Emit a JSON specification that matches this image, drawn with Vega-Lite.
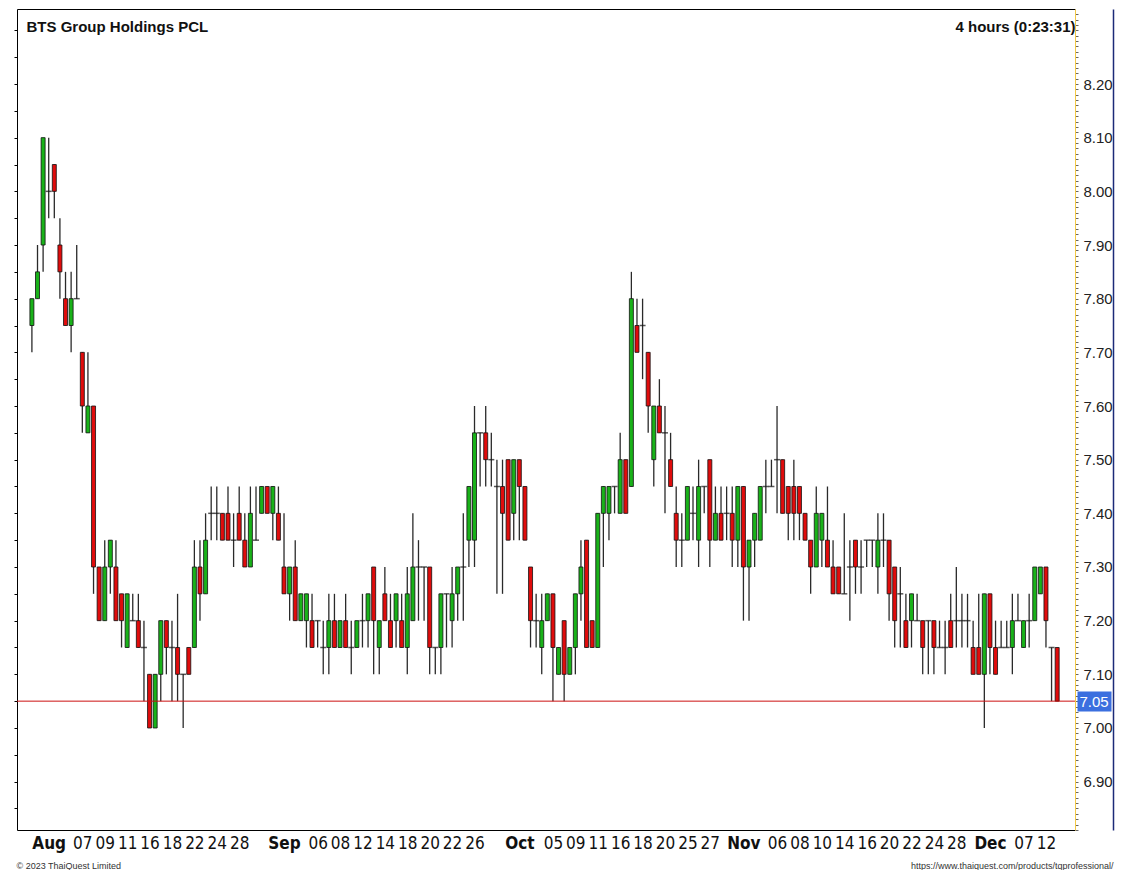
{
"$schema": "https://vega.github.io/schema/vega-lite/v6.json",
"width": 1058,
"height": 821,
"autosize": {"type": "none"},
"padding": {"left": 17, "top": 9, "right": 55, "bottom": 40},
"background": "white",
"config": {"view": {"stroke": null}, "font": "Liberation Sans"},
"datasets": {
"candles": [
{"i":0,"o":7.75,"h":7.8,"l":7.7,"c":7.8},
{"i":1,"o":7.8,"h":7.9,"l":7.8,"c":7.85},
{"i":2,"o":7.9,"h":8.1,"l":7.85,"c":8.1},
{"i":3,"o":8.0,"h":8.1,"l":7.95,"c":8.0},
{"i":4,"o":8.05,"h":8.05,"l":7.95,"c":8.0},
{"i":5,"o":7.9,"h":7.95,"l":7.8,"c":7.85},
{"i":6,"o":7.8,"h":7.85,"l":7.75,"c":7.75},
{"i":7,"o":7.75,"h":7.85,"l":7.7,"c":7.8},
{"i":8,"o":7.8,"h":7.9,"l":7.8,"c":7.8},
{"i":9,"o":7.7,"h":7.7,"l":7.55,"c":7.6},
{"i":10,"o":7.55,"h":7.7,"l":7.55,"c":7.6},
{"i":11,"o":7.6,"h":7.6,"l":7.25,"c":7.3},
{"i":12,"o":7.3,"h":7.3,"l":7.2,"c":7.2},
{"i":13,"o":7.2,"h":7.35,"l":7.2,"c":7.3},
{"i":14,"o":7.3,"h":7.35,"l":7.25,"c":7.35},
{"i":15,"o":7.3,"h":7.35,"l":7.2,"c":7.2},
{"i":16,"o":7.25,"h":7.25,"l":7.15,"c":7.2},
{"i":17,"o":7.15,"h":7.25,"l":7.15,"c":7.25},
{"i":18,"o":7.2,"h":7.25,"l":7.2,"c":7.2},
{"i":19,"o":7.2,"h":7.25,"l":7.15,"c":7.15},
{"i":20,"o":7.15,"h":7.2,"l":7.05,"c":7.15},
{"i":21,"o":7.1,"h":7.1,"l":7.0,"c":7.0},
{"i":22,"o":7.0,"h":7.1,"l":7.0,"c":7.1},
{"i":23,"o":7.1,"h":7.2,"l":7.05,"c":7.2},
{"i":24,"o":7.2,"h":7.2,"l":7.1,"c":7.15},
{"i":25,"o":7.15,"h":7.2,"l":7.05,"c":7.15},
{"i":26,"o":7.15,"h":7.25,"l":7.05,"c":7.1},
{"i":27,"o":7.1,"h":7.1,"l":7.0,"c":7.1},
{"i":28,"o":7.15,"h":7.15,"l":7.1,"c":7.1},
{"i":29,"o":7.15,"h":7.35,"l":7.15,"c":7.3},
{"i":30,"o":7.3,"h":7.35,"l":7.2,"c":7.25},
{"i":31,"o":7.25,"h":7.4,"l":7.25,"c":7.35},
{"i":32,"o":7.4,"h":7.45,"l":7.35,"c":7.4},
{"i":33,"o":7.4,"h":7.45,"l":7.35,"c":7.4},
{"i":34,"o":7.4,"h":7.4,"l":7.35,"c":7.35},
{"i":35,"o":7.4,"h":7.45,"l":7.35,"c":7.35},
{"i":36,"o":7.35,"h":7.4,"l":7.3,"c":7.35},
{"i":37,"o":7.4,"h":7.45,"l":7.35,"c":7.35},
{"i":38,"o":7.35,"h":7.4,"l":7.3,"c":7.3},
{"i":39,"o":7.3,"h":7.45,"l":7.3,"c":7.4},
{"i":40,"o":7.35,"h":7.45,"l":7.35,"c":7.35},
{"i":41,"o":7.4,"h":7.45,"l":7.4,"c":7.45},
{"i":42,"o":7.45,"h":7.45,"l":7.4,"c":7.4},
{"i":43,"o":7.4,"h":7.45,"l":7.35,"c":7.45},
{"i":44,"o":7.4,"h":7.45,"l":7.35,"c":7.35},
{"i":45,"o":7.3,"h":7.4,"l":7.25,"c":7.25},
{"i":46,"o":7.25,"h":7.3,"l":7.2,"c":7.3},
{"i":47,"o":7.3,"h":7.35,"l":7.2,"c":7.2},
{"i":48,"o":7.2,"h":7.25,"l":7.2,"c":7.25},
{"i":49,"o":7.2,"h":7.25,"l":7.15,"c":7.25},
{"i":50,"o":7.2,"h":7.25,"l":7.15,"c":7.15},
{"i":51,"o":7.2,"h":7.2,"l":7.15,"c":7.2},
{"i":52,"o":7.15,"h":7.2,"l":7.1,"c":7.15},
{"i":53,"o":7.15,"h":7.25,"l":7.1,"c":7.2},
{"i":54,"o":7.2,"h":7.25,"l":7.15,"c":7.15},
{"i":55,"o":7.15,"h":7.2,"l":7.15,"c":7.2},
{"i":56,"o":7.2,"h":7.25,"l":7.15,"c":7.15},
{"i":57,"o":7.15,"h":7.2,"l":7.1,"c":7.15},
{"i":58,"o":7.15,"h":7.2,"l":7.15,"c":7.2},
{"i":59,"o":7.2,"h":7.25,"l":7.15,"c":7.2},
{"i":60,"o":7.2,"h":7.25,"l":7.15,"c":7.25},
{"i":61,"o":7.3,"h":7.3,"l":7.1,"c":7.2},
{"i":62,"o":7.15,"h":7.2,"l":7.1,"c":7.2},
{"i":63,"o":7.25,"h":7.3,"l":7.2,"c":7.2},
{"i":64,"o":7.2,"h":7.25,"l":7.15,"c":7.15},
{"i":65,"o":7.2,"h":7.25,"l":7.15,"c":7.25},
{"i":66,"o":7.2,"h":7.25,"l":7.15,"c":7.15},
{"i":67,"o":7.15,"h":7.3,"l":7.1,"c":7.25},
{"i":68,"o":7.2,"h":7.4,"l":7.2,"c":7.3},
{"i":69,"o":7.3,"h":7.35,"l":7.2,"c":7.3},
{"i":70,"o":7.3,"h":7.3,"l":7.2,"c":7.3},
{"i":71,"o":7.3,"h":7.3,"l":7.1,"c":7.15},
{"i":72,"o":7.15,"h":7.15,"l":7.1,"c":7.15},
{"i":73,"o":7.15,"h":7.25,"l":7.1,"c":7.25},
{"i":74,"o":7.25,"h":7.25,"l":7.15,"c":7.25},
{"i":75,"o":7.2,"h":7.3,"l":7.15,"c":7.25},
{"i":76,"o":7.25,"h":7.3,"l":7.2,"c":7.3},
{"i":77,"o":7.3,"h":7.4,"l":7.2,"c":7.3},
{"i":78,"o":7.35,"h":7.45,"l":7.3,"c":7.45},
{"i":79,"o":7.35,"h":7.6,"l":7.3,"c":7.55},
{"i":80,"o":7.55,"h":7.55,"l":7.45,"c":7.55},
{"i":81,"o":7.55,"h":7.6,"l":7.45,"c":7.5},
{"i":82,"o":7.5,"h":7.55,"l":7.45,"c":7.5},
{"i":83,"o":7.45,"h":7.5,"l":7.25,"c":7.45},
{"i":84,"o":7.45,"h":7.5,"l":7.25,"c":7.4},
{"i":85,"o":7.5,"h":7.5,"l":7.35,"c":7.35},
{"i":86,"o":7.4,"h":7.5,"l":7.35,"c":7.5},
{"i":87,"o":7.5,"h":7.5,"l":7.35,"c":7.45},
{"i":88,"o":7.45,"h":7.45,"l":7.35,"c":7.35},
{"i":89,"o":7.3,"h":7.3,"l":7.15,"c":7.2},
{"i":90,"o":7.2,"h":7.25,"l":7.15,"c":7.2},
{"i":91,"o":7.15,"h":7.25,"l":7.1,"c":7.2},
{"i":92,"o":7.2,"h":7.25,"l":7.2,"c":7.25},
{"i":93,"o":7.25,"h":7.25,"l":7.05,"c":7.15},
{"i":94,"o":7.1,"h":7.15,"l":7.1,"c":7.15},
{"i":95,"o":7.2,"h":7.2,"l":7.05,"c":7.1},
{"i":96,"o":7.1,"h":7.15,"l":7.1,"c":7.15},
{"i":97,"o":7.15,"h":7.25,"l":7.1,"c":7.25},
{"i":98,"o":7.25,"h":7.35,"l":7.2,"c":7.3},
{"i":99,"o":7.35,"h":7.35,"l":7.15,"c":7.15},
{"i":100,"o":7.2,"h":7.2,"l":7.15,"c":7.15},
{"i":101,"o":7.15,"h":7.4,"l":7.15,"c":7.4},
{"i":102,"o":7.4,"h":7.45,"l":7.3,"c":7.45},
{"i":103,"o":7.4,"h":7.45,"l":7.35,"c":7.45},
{"i":104,"o":7.45,"h":7.45,"l":7.4,"c":7.45},
{"i":105,"o":7.4,"h":7.55,"l":7.4,"c":7.5},
{"i":106,"o":7.5,"h":7.5,"l":7.4,"c":7.4},
{"i":107,"o":7.45,"h":7.85,"l":7.45,"c":7.8},
{"i":108,"o":7.75,"h":7.8,"l":7.7,"c":7.7},
{"i":109,"o":7.75,"h":7.8,"l":7.65,"c":7.75},
{"i":110,"o":7.7,"h":7.7,"l":7.55,"c":7.6},
{"i":111,"o":7.5,"h":7.6,"l":7.45,"c":7.6},
{"i":112,"o":7.6,"h":7.65,"l":7.55,"c":7.55},
{"i":113,"o":7.55,"h":7.6,"l":7.4,"c":7.55},
{"i":114,"o":7.5,"h":7.55,"l":7.45,"c":7.45},
{"i":115,"o":7.4,"h":7.45,"l":7.3,"c":7.35},
{"i":116,"o":7.35,"h":7.4,"l":7.3,"c":7.35},
{"i":117,"o":7.35,"h":7.45,"l":7.35,"c":7.45},
{"i":118,"o":7.4,"h":7.45,"l":7.35,"c":7.4},
{"i":119,"o":7.35,"h":7.5,"l":7.3,"c":7.45},
{"i":120,"o":7.45,"h":7.45,"l":7.4,"c":7.45},
{"i":121,"o":7.5,"h":7.5,"l":7.3,"c":7.35},
{"i":122,"o":7.35,"h":7.45,"l":7.35,"c":7.4},
{"i":123,"o":7.4,"h":7.45,"l":7.35,"c":7.35},
{"i":124,"o":7.4,"h":7.45,"l":7.35,"c":7.4},
{"i":125,"o":7.4,"h":7.45,"l":7.3,"c":7.35},
{"i":126,"o":7.35,"h":7.45,"l":7.3,"c":7.45},
{"i":127,"o":7.45,"h":7.45,"l":7.2,"c":7.3},
{"i":128,"o":7.3,"h":7.35,"l":7.2,"c":7.35},
{"i":129,"o":7.35,"h":7.4,"l":7.3,"c":7.4},
{"i":130,"o":7.35,"h":7.45,"l":7.35,"c":7.45},
{"i":131,"o":7.45,"h":7.5,"l":7.4,"c":7.45},
{"i":132,"o":7.45,"h":7.5,"l":7.45,"c":7.45},
{"i":133,"o":7.5,"h":7.6,"l":7.4,"c":7.5},
{"i":134,"o":7.5,"h":7.5,"l":7.4,"c":7.4},
{"i":135,"o":7.45,"h":7.45,"l":7.35,"c":7.4},
{"i":136,"o":7.45,"h":7.5,"l":7.35,"c":7.4},
{"i":137,"o":7.45,"h":7.45,"l":7.35,"c":7.4},
{"i":138,"o":7.4,"h":7.4,"l":7.35,"c":7.35},
{"i":139,"o":7.35,"h":7.35,"l":7.25,"c":7.3},
{"i":140,"o":7.3,"h":7.45,"l":7.3,"c":7.4},
{"i":141,"o":7.35,"h":7.4,"l":7.3,"c":7.4},
{"i":142,"o":7.35,"h":7.45,"l":7.3,"c":7.3},
{"i":143,"o":7.3,"h":7.35,"l":7.25,"c":7.25},
{"i":144,"o":7.3,"h":7.3,"l":7.25,"c":7.25},
{"i":145,"o":7.25,"h":7.4,"l":7.25,"c":7.25},
{"i":146,"o":7.3,"h":7.35,"l":7.2,"c":7.3},
{"i":147,"o":7.35,"h":7.35,"l":7.25,"c":7.3},
{"i":148,"o":7.3,"h":7.35,"l":7.25,"c":7.3},
{"i":149,"o":7.35,"h":7.35,"l":7.3,"c":7.35},
{"i":150,"o":7.35,"h":7.35,"l":7.3,"c":7.35},
{"i":151,"o":7.3,"h":7.4,"l":7.25,"c":7.35},
{"i":152,"o":7.35,"h":7.4,"l":7.3,"c":7.35},
{"i":153,"o":7.35,"h":7.35,"l":7.2,"c":7.25},
{"i":154,"o":7.3,"h":7.3,"l":7.15,"c":7.2},
{"i":155,"o":7.25,"h":7.3,"l":7.15,"c":7.25},
{"i":156,"o":7.2,"h":7.25,"l":7.15,"c":7.15},
{"i":157,"o":7.2,"h":7.25,"l":7.15,"c":7.25},
{"i":158,"o":7.2,"h":7.25,"l":7.2,"c":7.2},
{"i":159,"o":7.2,"h":7.2,"l":7.1,"c":7.15},
{"i":160,"o":7.2,"h":7.2,"l":7.1,"c":7.2},
{"i":161,"o":7.2,"h":7.2,"l":7.1,"c":7.15},
{"i":162,"o":7.15,"h":7.2,"l":7.15,"c":7.15},
{"i":163,"o":7.15,"h":7.2,"l":7.1,"c":7.15},
{"i":164,"o":7.2,"h":7.25,"l":7.15,"c":7.15},
{"i":165,"o":7.2,"h":7.3,"l":7.15,"c":7.2},
{"i":166,"o":7.2,"h":7.25,"l":7.15,"c":7.2},
{"i":167,"o":7.2,"h":7.25,"l":7.15,"c":7.2},
{"i":168,"o":7.15,"h":7.2,"l":7.1,"c":7.1},
{"i":169,"o":7.15,"h":7.25,"l":7.1,"c":7.1},
{"i":170,"o":7.1,"h":7.25,"l":7.0,"c":7.25},
{"i":171,"o":7.25,"h":7.25,"l":7.1,"c":7.15},
{"i":172,"o":7.15,"h":7.2,"l":7.1,"c":7.1},
{"i":173,"o":7.15,"h":7.2,"l":7.15,"c":7.15},
{"i":174,"o":7.15,"h":7.2,"l":7.15,"c":7.15},
{"i":175,"o":7.15,"h":7.25,"l":7.1,"c":7.2},
{"i":176,"o":7.2,"h":7.25,"l":7.2,"c":7.2},
{"i":177,"o":7.15,"h":7.2,"l":7.15,"c":7.2},
{"i":178,"o":7.2,"h":7.25,"l":7.15,"c":7.2},
{"i":179,"o":7.2,"h":7.3,"l":7.2,"c":7.3},
{"i":180,"o":7.25,"h":7.3,"l":7.25,"c":7.3},
{"i":181,"o":7.3,"h":7.3,"l":7.15,"c":7.2},
{"i":182,"o":7.15,"h":7.15,"l":7.05,"c":7.15},
{"i":183,"o":7.15,"h":7.15,"l":7.05,"c":7.05}
],
"last": [{"p": 7.05}]
},
"layer": [
{
"data": {"name": "candles"},
"mark": {"type": "rule", "color": "#2a2a2a", "strokeWidth": 1.3},
"encoding": {
"x": {"field": "i", "type": "quantitative",
"scale": {"domain": [-1.768, 185.29], "nice": false, "zero": false},
"axis": {"orient": "bottom",
"values": [3,9,13,17,21,25,29,33,37,45,51,55,59,63,67,71,75,79,87,93,97,101,105,109,113,117,121,127,133,137,141,145,149,153,157,161,165,171,177,181],
"labelExpr": "['Aug','07','09','11','16','18','22','24','28','Sep','06','08','12','14','18','20','22','26','Oct','05','09','11','16','18','20','25','27','Nov','06','08','10','14','16','20','22','24','28','Dec','07','12'][indexof([3,9,13,17,21,25,29,33,37,45,51,55,59,63,67,71,75,79,87,93,97,101,105,109,113,117,121,127,133,137,141,145,149,153,157,161,165,171,177,181], datum.value)]",
"labelFontWeight": {"condition": {"test": "indexof([3,45,87,127,171], datum.value) >= 0", "value": "bold"}, "value": "normal"},
"labelFont": "DejaVu Sans Condensed, Liberation Sans, sans-serif",
"labelFontSize": 17, "labelColor": "#111111", "labelPadding": 5, "labelBaseline": "top",
"labelOverlap": false, "labelFlush": false, "labelBound": false,
"ticks": false, "grid": false, "domain": true, "domainColor": "#000000", "domainWidth": 1,
"title": "© 2023 ThaiQuest Limited", "titleX": -1, "titleY": 38, "titleAlign": "left", "titleAnchor": "start",
"titleBaseline": "alphabetic", "titleFontSize": 9, "titleFontWeight": "normal", "titleColor": "#333333", "titleFont": "Liberation Sans"}},
"y": {"field": "l", "type": "quantitative",
"scale": {"domain": [6.8099, 8.3398], "nice": false, "zero": false},
"axis": {"orient": "right", "tickCount": 150,
"labelExpr": "(abs(datum.value*10 - round(datum.value*10)) < 0.001 && datum.value < 8.25) ? format(datum.value, '.2f') : ''",
"labelOverlap": false, "labelFlush": false, "labelBound": false,
"tickSize": 3, "tickColor": "#666666", "tickWidth": 1,
"domain": true, "domainColor": "#f3c845", "domainWidth": 1,
"labelFont": "Liberation Sans", "labelFontSize": 15, "labelColor": "#222222", "labelPadding": 5,
"labelAlign": "left", "labelBaseline": "middle", "grid": false, "title": null}},
"y2": {"field": "h"}
}
},
{
"data": {"name": "candles"},
"transform": [{"filter": "datum.o != datum.c"}],
"mark": {"type": "bar", "width": 4, "stroke": "#111111", "strokeWidth": 0.8},
"encoding": {
"x": {"field": "i", "type": "quantitative",
"axis": {"orient": "top", "labels": false, "ticks": false, "grid": false, "domain": true, "domainColor": "#000000",
"title": "4 hours (0:23:31)", "titleX": 1058, "titleY": 22, "titleAlign": "right", "titleAnchor": "end",
"titleBaseline": "alphabetic", "titleFont": "Liberation Sans",
"titleFontSize": 15, "titleFontWeight": "bold", "titleColor": "#111111"}},
"y": {"field": "o", "type": "quantitative",
"axis": {"orient": "left", "labels": false, "ticks": true, "tickCount": 30, "tickSize": 3, "tickColor": "#000000",
"grid": false, "domain": true, "domainColor": "#000000",
"title": "BTS Group Holdings PCL", "titleAngle": 0, "titleX": 9, "titleY": 22, "titleAlign": "left", "titleAnchor": "start",
"titleBaseline": "alphabetic", "titleFont": "Liberation Sans",
"titleFontSize": 15, "titleFontWeight": "bold", "titleColor": "#111111"}},
"y2": {"field": "c"},
"fill": {"condition": {"test": "datum.c > datum.o", "value": "#19b219"}, "value": "#e00c0c"}
}
},
{
"data": {"name": "candles"},
"transform": [{"filter": "datum.o == datum.c"}],
"mark": {"type": "tick", "orient": "horizontal", "size": 6, "thickness": 1.5, "color": "#111111"},
"encoding": {
"x": {"field": "i", "type": "quantitative",
"axis": {"orient": "bottom", "labels": false, "ticks": false, "grid": false, "domain": false,
"title": "https://www.thaiquest.com/products/tqprofessional/", "titleX": 1096, "titleY": 38, "titleAlign": "right", "titleAnchor": "end",
"titleBaseline": "alphabetic", "titleFontSize": 9, "titleFontWeight": "normal", "titleColor": "#333333", "titleFont": "Liberation Sans"}},
"y": {"field": "o", "type": "quantitative",
"axis": {"orient": "right", "offset": 38, "labels": false, "ticks": false, "grid": false,
"domain": true, "domainColor": "#1c2a78", "domainWidth": 1.5, "title": null}}
}
},
{
"data": {"name": "last"},
"mark": {"type": "rule", "color": "#cc1010", "strokeWidth": 1},
"encoding": {
"y": {"field": "p", "type": "quantitative",
"axis": {"orient": "right", "values": [7.05], "offset": 2, "domain": false, "grid": false,
"ticks": true, "tickSize": 34, "tickWidth": 20, "tickColor": "#3b6fdf",
"labelColor": "#ffffff", "labelFontSize": 15, "labelFont": "Liberation Sans", "labelPadding": -32,
"labelAlign": "left", "labelBaseline": "middle", "format": ".2f", "title": null}}
}
}
],
"resolve": {"axis": {"x": "independent", "y": "independent"}}
}
